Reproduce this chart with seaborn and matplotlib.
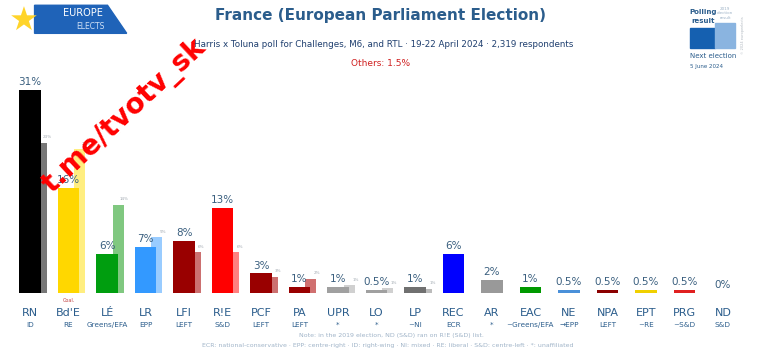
import numpy as np
import pandas as pd
import matplotlib
matplotlib.use('Agg')
import matplotlib.pyplot as plt
import matplotlib.patches as mpatches
import seaborn as sns

sns.set_theme(style='white')
plt.rcParams['font.family'] = ['DejaVu Sans']

# 데이터
parties = ["RN", "Bd'E", "LÉ", "LR", "LFI", "R!E", "PCF", "PA", "UPR", "LO",
           "LP", "REC", "AR", "EAC", "NE", "NPA", "EPT", "PRG", "ND"]
groups = ["ID", "RE", "Greens/EFA", "EPP", "LEFT", "S&D", "LEFT", "LEFT", "*", "*",
          "~NI", "ECR", "*", "~Greens/EFA", "→EPP", "LEFT", "~RE", "~S&D", "S&D"]
poll = [31, 16, 6, 7, 8, 13, 3, 1, 1, 0.5, 1, 6, 2, 1, 0.5, 0.5, 0.5, 0.5, 0]
poll_labels = ["31%", "16%", "6%", "7%", "8%", "13%", "3%", "1%", "1%", "0.5%", "1%",
               "6%", "2%", "1%", "0.5%", "0.5%", "0.5%", "0.5%", "0%"]
res2019 = [23, 22, 13.5, 8.5, 6.3, 6.2, 2.5, 2.2, 1.2, 0.8, 0.7,
           np.nan, np.nan, np.nan, np.nan, np.nan, np.nan, np.nan, np.nan]
res2019_labels = ["23%", "22%", "14%", "9%", "6%", "6%", "3%", "2%", "1%", "1%", "1%",
                  "", "", "", "", "", "", "", ""]

colors = ["#000000", "#FFD700", "#009E0F", "#3399FF", "#990000", "#FF0000", "#990000",
          "#990000", "#A0A0A0", "#A0A0A0", "#707070", "#0000FF", "#999999", "#009900",
          "#4A90D9", "#8B0000", "#F0D000", "#E02020", "#FFFFFF"]
light = ["#777777", "#FFEE80", "#80C880", "#99CCFF", "#CC7070", "#FF8080", "#CC7070",
         "#D07070", "#D0D0D0", "#D0D0D0", "#BBBBBB", "#8080FF", "#CCCCCC", "#80CC80",
         "#A0C8F0", "#C08080", "#F8E880", "#F09090", "#FFFFFF"]

pos = np.arange(len(parties))
df = pd.DataFrame({'party': parties, 'x': pos, 'poll': poll,
                   'x19': pos + 0.29, 'r19': res2019})

fig = plt.figure(figsize=(7.68, 3.51), dpi=100)
ax = fig.add_axes([0, 0.165, 1, 0.746])

# 2019 결과 (뒤쪽, 연한 색)
sns.barplot(data=df, x='x19', y='r19', hue='party', palette=dict(zip(parties, light)),
            native_scale=True, width=0.285, legend=False, ax=ax, linewidth=0,
            saturation=1)
# 여론조사 결과
sns.barplot(data=df, x='x', y='poll', hue='party', palette=dict(zip(parties, colors)),
            native_scale=True, width=0.55, legend=False, ax=ax, linewidth=0,
            saturation=1)

ax.set_xlim(-0.78, 19.17)
ax.set_ylim(0, 40)
ax.axis('off')

blue = '#2b5d8c'
for i in range(len(parties)):
    ax.text(pos[i], poll[i] + 0.45, poll_labels[i], ha='center', va='bottom',
            fontsize=7.5, color='#3a5f7f')
    if res2019_labels[i]:
        ax.text(pos[i] + 0.45, res2019[i] + 0.5, res2019_labels[i], ha='center',
                va='bottom', fontsize=3, color='#a0a8b0')
    ax.text(pos[i], -3.05, parties[i], ha='center', va='center', fontsize=8,
            color=blue, clip_on=False)
    ax.text(pos[i], -4.9, groups[i], ha='center', va='center', fontsize=5.2,
            color=blue, clip_on=False)
ax.text(1, -1.1, "Coal.", ha='center', va='center', fontsize=3.5, color='#c04040',
        clip_on=False)

# 제목
fig.text(0.495, 0.955, "France (European Parliament Election)", ha='center', va='center',
         fontsize=11, fontweight='bold', color=blue)
fig.text(0.50, 0.872, "Harris x Toluna poll for Challenges, M6, and RTL · 19-22 April 2024 · 2,319 respondents",
         ha='center', va='center', fontsize=6.3, color='#1f3f6f')
fig.text(0.495, 0.82, "Others: 1.5%", ha='center', va='center', fontsize=6.5, color='#d02020')

# 로고
logo = mpatches.Polygon([[0.045, 0.905], [0.165, 0.905], [0.14, 0.985], [0.045, 0.985]],
                        closed=True, transform=fig.transFigure, color='#1f63b8')
fig.patches.append(logo)
fig.text(0.012, 0.94, "★", fontsize=24, color='#FFD42A', ha='left', va='center',
         family=['DejaVu Sans'])
fig.text(0.108, 0.962, "EUROPE", fontsize=7, color='white', ha='center', va='center')
fig.text(0.118, 0.925, "ELECTS", fontsize=5.5, color='#cfe0f5', ha='center', va='center')

# 범례
fig.patches.append(mpatches.Rectangle((0.898, 0.863), 0.033, 0.057, transform=fig.transFigure,
                                      color='#1560b0'))
fig.patches.append(mpatches.Rectangle((0.931, 0.863), 0.026, 0.072, transform=fig.transFigure,
                                      color='#8ab4e0'))
fig.text(0.916, 0.965, "Polling", fontsize=5, fontweight='bold', color=blue, ha='center', va='center')
fig.text(0.916, 0.94, "result", fontsize=5, fontweight='bold', color=blue, ha='center', va='center')
fig.text(0.944, 0.98, "2019\nelection\nresult", fontsize=3, color='#a0b4c8', ha='center',
         va='top', linespacing=1.1)
fig.text(0.898, 0.84, "Next election", fontsize=5, color=blue, ha='left', va='center')
fig.text(0.898, 0.81, "5 June 2024", fontsize=4, color=blue, ha='left', va='center')
fig.text(0.967, 0.9, "© 2024 europeelects", fontsize=2.5, color='#b0b8c0', rotation=90,
         ha='center', va='center')

# 각주
fig.text(0.51, 0.045, "Note: in the 2019 election, ND (S&D) ran on R!E (S&D) list.",
         fontsize=4.5, color='#a0b4c8', ha='center', va='center')
fig.text(0.505, 0.017, "ECR: national-conservative · EPP: centre-right · ID: right-wing · NI: mixed · "
         "RE: liberal · S&D: centre-left · *: unaffiliated",
         fontsize=4.5, color='#a0b4c8', ha='center', va='center')

# 워터마크
fig.text(0.162, 0.67, "t.me/tvotv_sk", fontsize=20, fontweight='bold', color='#ff0000',
         rotation=43, ha='center', va='center', family=['DejaVu Sans'])

fig.savefig('out.png', dpi=100)
